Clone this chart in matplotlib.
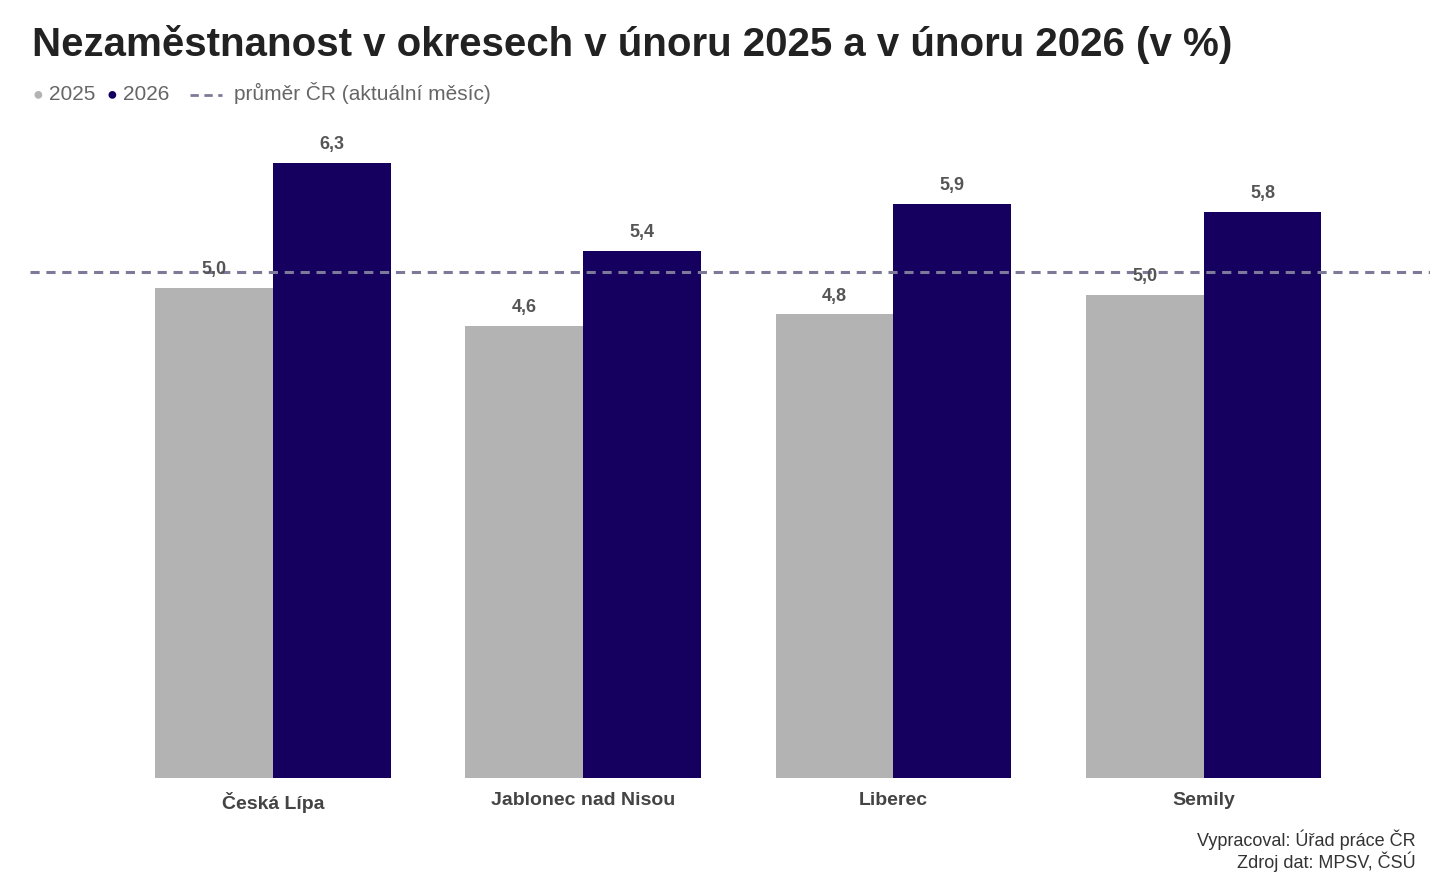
import matplotlib
matplotlib.use("Agg")
import matplotlib.pyplot as plt
import numpy as np

districts = ["Česká Lípa", "Jablonec nad Nisou", "Liberec", "Semily"]
vals_2025 = [5.02, 4.63, 4.75, 4.95]
vals_2026 = [6.30, 5.40, 5.88, 5.80]
avg_cr = 5.18

C25 = "#b3b3b3"
C26 = "#150060"

plt.rcParams["font.family"] = ["Liberation Sans", "DejaVu Sans"]

fig = plt.figure(figsize=(14.32, 8.75), dpi=100)
ax = fig.add_axes([30 / 1432, 0.1109, 1400 / 1432, 0.7406])

x = np.arange(len(districts))
w = 0.38
b1 = ax.bar(x - w / 2, vals_2025, w, color=C25)
b2 = ax.bar(x + w / 2, vals_2026, w, color=C26)
ax.axhline(avg_cr, color="#7d7a99", ls=(0, (3, 2.2)), lw=2.2, zorder=3)

for bars in (b1, b2):
    for b in bars:
        ax.text(b.get_x() + b.get_width() / 2, b.get_height() + 0.1,
                f"{b.get_height():.1f}".replace(".", ","),
                ha="center", va="bottom", fontsize=13, fontweight="bold",
                color="#555555", zorder=4)

ax.set_xlim(-0.784, 3.73)
ax.set_ylim(0, 6.64)
ax.set_xticks(x)
ax.set_xticklabels(districts, fontsize=14, fontweight="bold", color="#444444")
ax.tick_params(axis="x", length=0, pad=10)
ax.set_yticks([])
for s in ax.spines.values():
    s.set_visible(False)

fig.text(32 / 1432, 1 - 44 / 875, "Nezaměstnanost v okresech v únoru 2025 a v únoru 2026 (v %)",
         fontsize=29, fontweight="bold", color="#222222", va="center")

ly = 1 - 95 / 875
fig.text(32 / 1432, ly, "●", color=C25, fontsize=13, va="center")
fig.text(49 / 1432, ly, "2025", color="#666666", fontsize=15, va="center")
fig.text(106 / 1432, ly, "●", color=C26, fontsize=13, va="center")
fig.text(123 / 1432, ly, "2026", color="#666666", fontsize=15, va="center")
fig.add_artist(plt.Line2D([190 / 1432, 222 / 1432], [ly, ly], color="#7d7a99",
                          ls=(0, (3, 2)), lw=2, transform=fig.transFigure))
fig.text(234 / 1432, 1 - 93 / 875, "průměr ČR (aktuální měsíc)", color="#666666",
         fontsize=15, va="center")

fig.text(1416 / 1432, 1 - 840 / 875, "Vypracoval: Úřad práce ČR", ha="right",
         va="center", fontsize=13, color="#333333")
fig.text(1416 / 1432, 1 - 862 / 875, "Zdroj dat: MPSV, ČSÚ", ha="right",
         va="center", fontsize=13, color="#333333")

fig.savefig("out.png", dpi=100)
